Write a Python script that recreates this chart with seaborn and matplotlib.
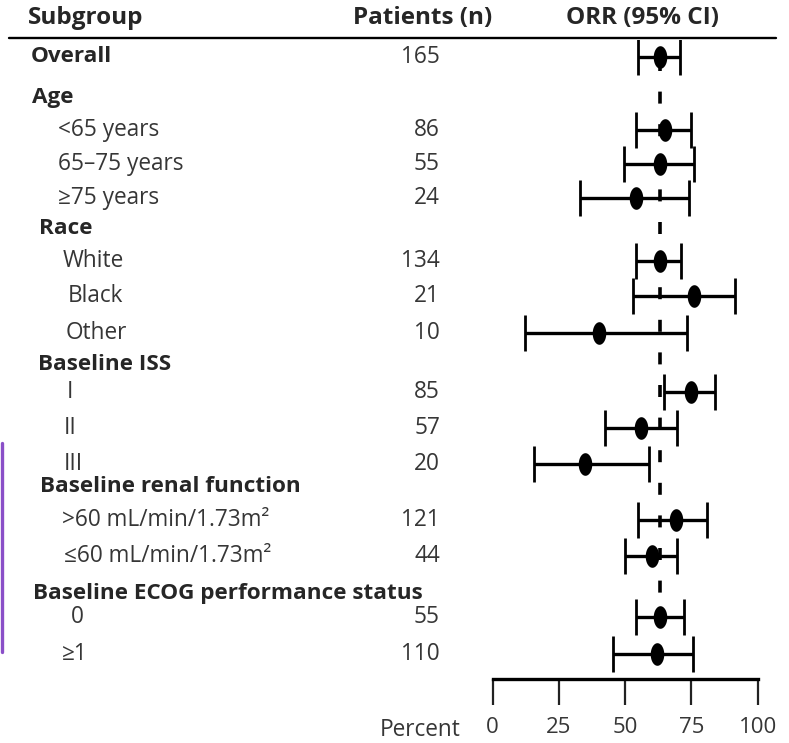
import numpy as np
import pandas as pd
import matplotlib
matplotlib.use("Agg")
import matplotlib.pyplot as plt
import matplotlib.transforms as mtransforms
from matplotlib.path import Path
from matplotlib.lines import Line2D
import seaborn as sns

# ---- data -------------------------------------------------------------
labels = ["Overall", "Age", "<65 years", "65\u201375 years", "\u226575 years",
          "Race", "White", "Black", "Other",
          "Baseline ISS", "I", "II", "III",
          "Baseline renal function", ">60 mL/min/1.73m\u00b2", "\u226460 mL/min/1.73m\u00b2",
          "Baseline ECOG performance status", "0", "\u22651"]
is_header = [True, True, False, False, False,
             True, False, False, False,
             True, False, False, False,
             True, False, False,
             True, False, False]
patients = [165, None, 86, 55, 24,
            None, 134, 21, 10,
            None, 85, 57, 20,
            None, 121, 44,
            None, 55, 110]
orr = [63, None, 65, 63, 54,
       None, 63, 76, 40,
       None, 75, 56, 35,
       None, 69, 60,
       None, 63, 62]
ci_low = [55, None, 54, 49.5, 33,
          None, 54, 53, 12,
          None, 64.5, 42.5, 15.5,
          None, 55, 50,
          None, 54, 45.5]
ci_high = [70.5, None, 75, 76, 74,
           None, 71, 91.5, 73.5,
           None, 84, 69.5, 59,
           None, 81, 69.5,
           None, 72, 75.5]
overall_orr = 63
x_ticks = [0, 25, 50, 75, 100]

# ---- layout (pixel rows and label indents) ------------------------------
row_y = [57, 97, 130, 164, 198, 229, 261, 296, 333, 365, 392, 428, 464,
         487, 520, 556, 593, 617, 654]
indent = [31, 32, 58, 58, 58, 39, 63, 68, 66, 38, 67, 64, 64,
          40, 62, 64, 33, 71, 62]

df = pd.DataFrame({"label": labels, "header": is_header, "n": patients,
                   "orr": orr, "lo": ci_low, "hi": ci_high,
                   "y": row_y, "indent": indent})

# ---- figure -------------------------------------------------------------
sns.set_theme(style="white")
plt.rcParams["font.family"] = ["Open Sans", "DejaVu Sans"]
plt.rcParams["lines.scale_dashes"] = False
W, H = 789, 743
fig = plt.figure(figsize=(W / 100, H / 100), dpi=100)

top_px, bottom_px = 40, 679
left_px, right_px = 492.7, 757.7
ax = fig.add_axes([left_px / W, 1 - bottom_px / H,
                   (right_px - left_px) / W, (bottom_px - top_px) / H])
ax.set_xlim(0, 100)
ax.set_ylim(bottom_px, top_px)

ink = "#000000"
text_col = "#363636"
bold_col = "#262626"
px = 0.72  # points per pixel at 100 dpi

# dashed reference line at the overall response rate
ax.plot([overall_orr, overall_orr], [58.5, 662], color=ink, lw=2.6,
        ls=(0, (12 * px, 20.6 * px)), dash_capstyle="butt", zorder=1)

d = df.dropna(subset=["orr"])
ax.errorbar(d["orr"], d["y"],
            xerr=[d["orr"] - d["lo"], d["hi"] - d["orr"]],
            fmt="none", ecolor=ink, elinewidth=2.4, capsize=13, capthick=2.0,
            zorder=2)

# vertical ellipse marker
t = np.linspace(0, 2 * np.pi, 60)
ellipse = Path(np.column_stack([0.6 * np.cos(t), np.sin(t)]), closed=True)
sns.scatterplot(data=d, x="orr", y="y", marker=ellipse, s=265,
                color=ink, edgecolor=ink, linewidth=0, ax=ax, zorder=3,
                legend=False)

# axis styling: only the bottom percent scale
for side in ["left", "right", "top"]:
    ax.spines[side].set_visible(False)
ax.spines["bottom"].set_color(ink)
ax.spines["bottom"].set_linewidth(2.4)
ax.set_yticks([])
ax.set_xticks(x_ticks)
ax.set_xticklabels([str(v) for v in x_ticks])
ax.tick_params(axis="x", direction="out", length=18.5, width=1.6,
               color="#222222", pad=9, labelsize=16, labelcolor=text_col,
               bottom=True)
ax.set_xlabel("")
ax.set_ylabel("")
ax.grid(False)

# ---- table columns ------------------------------------------------------
tr = mtransforms.blended_transform_factory(fig.transFigure, ax.transData)
for _, r in df.iterrows():
    bold = bool(r["header"])
    ax.text(r["indent"] / W, r["y"], r["label"], transform=tr, ha="left",
            va="center", fontsize=16.2 if bold else 16.3,
            fontweight="bold" if bold else "normal",
            color=bold_col if bold else text_col)
    if not pd.isna(r["n"]):
        ax.text(440 / W, r["y"], f"{int(r['n'])}", transform=tr,
                ha="right", va="center", fontsize=16.3, color=text_col)

# column headings and rule
head_y = 1 - 18 / H
fig.text(28 / W, head_y, "Subgroup", ha="left", va="center",
         fontsize=17.5, fontweight="bold", color=bold_col)
fig.text(423 / W, head_y, "Patients (n)", ha="center", va="center",
         fontsize=17.5, fontweight="bold", color=bold_col)
fig.text(642 / W, head_y, "ORR (95% CI)", ha="center", va="center",
         fontsize=17.5, fontweight="bold", color=bold_col)
fig.add_artist(Line2D([9 / W, 776 / W], [1 - 37.5 / H, 1 - 37.5 / H],
                      transform=fig.transFigure, color=ink, lw=1.7))

fig.text(461 / W, 1 - 730 / H, "Percent", ha="right", va="center",
         fontsize=16.3, color=text_col)

# side marker bar
fig.add_artist(Line2D([1.5 / W, 1.5 / W], [1 - 443 / H, 1 - 652 / H],
                      transform=fig.transFigure, color="#8a4fc8", lw=2.4))

fig.savefig("out.png", dpi=100)
